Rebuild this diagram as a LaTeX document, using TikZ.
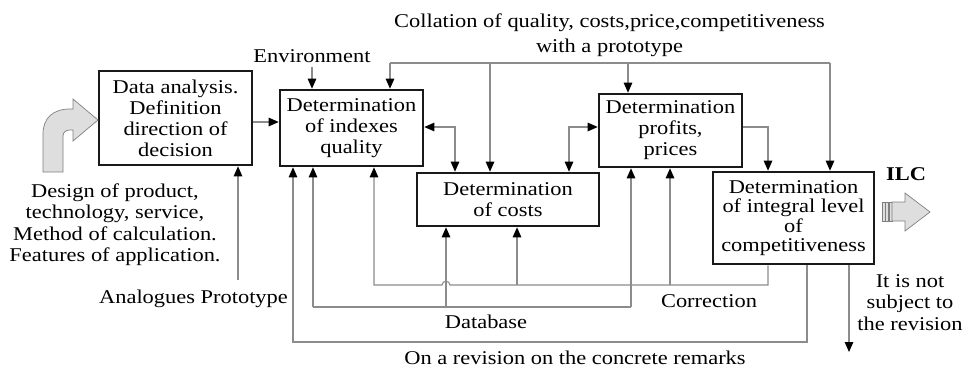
\documentclass[tikz,border=0pt]{standalone}
\usepackage{fontspec}
\setmainfont{Liberation Serif}[FakeStretch=1.15]
\usetikzlibrary{arrows.meta}
\newcommand\txtsz{\fontsize{19.5}{21}\selectfont}
\begin{document}
\begin{tikzpicture}[x=1pt,y=-1pt,
  every node/.style={font=\txtsz, inner sep=0pt},
  box/.style={draw=black!90, line width=2.6pt, align=center},
  conn/.style={draw=black!45, line width=1.1pt},
  tip/.style={-{Triangle[length=10pt,width=8.5pt,color=black]}},
  tips/.style={{Triangle[length=10pt,width=8.5pt,color=black]}-{Triangle[length=10pt,width=8.5pt,color=black]}},
  blk/.style={fill=black!13, draw=black!50, line width=0.7pt}]
\useasboundingbox (0,0) rectangle (965,370);

% boxes
\node[box, minimum width=153pt, minimum height=94pt] (b1) at (175.5,118) {Data analysis.\\Definition\\direction of\\decision};
\node[box, minimum width=143pt, minimum height=76pt] (b2) at (351.5,128) {Determination\\of indexes\\quality};
\node[box, minimum width=182pt, minimum height=53pt] (b3) at (508,199.5) {Determination\\of costs};
\node[box, minimum width=143pt, minimum height=73pt] (b4) at (670.5,130.5) {Determination\\profits,\\prices};
\node[box, minimum width=161pt, minimum height=92pt, font=\fontsize{19.5}{19.5}\selectfont] (b5) at (793.5,218) {Determination\\of integral level\\of\\competitiveness};

% labels
\node[anchor=north, align=center] (title) at (609.5,13.5) {Collation of quality, costs,price,competitiveness\\[4pt]with a prototype};
\node[anchor=base] (env) at (312,62) {Environment};
\node[anchor=base] (anal) at (193.5,303) {Analogues Prototype};
\node[anchor=base] (corr) at (709,307) {Correction};
\node[anchor=base] (db) at (486,328) {Database};
\node[anchor=base] (rev) at (575,364) {On a revision on the concrete remarks};
\node[anchor=north, align=center, font=\fontsize{19.5}{21.5}\selectfont] (ns) at (910,274) {It is not\\subject to\\the revision};
\node[anchor=north, align=center, font=\fontsize{19.5}{21.3}\selectfont] (design) at (115,183.5) {Design of product,\\technology, service,\\Method of calculation.\\Features of application.};
\node[anchor=base, font=\txtsz\bfseries] (ilc) at (906,180) {ILC};

% block arrows
\path[blk] (43,172) -- (43,134) .. controls (43,118) and (53,109) .. (70,109) -- (73,109) -- (73,99) -- (98,120) -- (73,141) -- (73,130) -- (70,130) .. controls (66,130) and (63,132) .. (63,136) -- (63,172) -- cycle;
\path[blk] (882,202) rectangle (885,221);
\path[blk] (885.7,202) rectangle (888.7,221);
\path[blk] (889.4,202) rectangle (892,221);
\path[blk] (892,202) -- (905,202) -- (905,193) -- (930,212) -- (905,231) -- (905,221) -- (892,221) -- cycle;

% connectors
\draw[conn,tip] (b1.east |- 0,122) -- (b2.west |- 0,122);
\draw[conn,tip] ([yshift=-5pt]env.south) -- (env.south |- b2.north);
\coordinate (tl) at (390,63);
\coordinate (tr) at (830,63);
\draw[conn] (tl) -- (tr);
\draw[conn,tip] (tl) -- (tl |- b2.north);
\draw[conn,tip] (tr) -- (tr |- b5.north);
\draw[conn,tip] (490,63) -- (490,0 |- b3.north);
\draw[conn,tip] (628,63) -- (628,0 |- b4.north);
\draw[conn,tips] (b2.east |- 0,127) -- (455,127) -- (455,0 |- b3.north);
\draw[conn,tips] (569,0 |- b3.north) -- (569,127) -- (b4.west |- 0,127);
\draw[conn,tip] (b4.east |- 0,127) -- (768,127) -- (768,0 |- b5.north);
\draw[conn,tip] (238,280) -- (238,0 |- b1.south);
% correction
\draw[conn,tip] (768,0 |- b5.south) -- (768,285) -- (450,285) .. controls (450,280) and (442,280) .. (442,285) -- (374,285) -- (374,0 |- b2.south);
\draw[conn,tip] (670,285) -- (670,0 |- b4.south);
\draw[conn,tip] (517,285) -- (517,0 |- b3.south);
% database
\draw[conn] (313,307) -- (631,307);
\draw[conn,tip] (313,307) -- (313,0 |- b2.south);
\draw[conn,tip] (631,307) -- (631,0 |- b4.south);
\draw[conn,tip] (446,307) -- (446,0 |- b3.south);
% revision
\draw[conn,tip] (807,0 |- b5.south) -- (807,342) -- (293,342) -- (293,0 |- b2.south);
\draw[conn,tip] (849,0 |- b5.south) -- (849,352);
\end{tikzpicture}
\end{document}
